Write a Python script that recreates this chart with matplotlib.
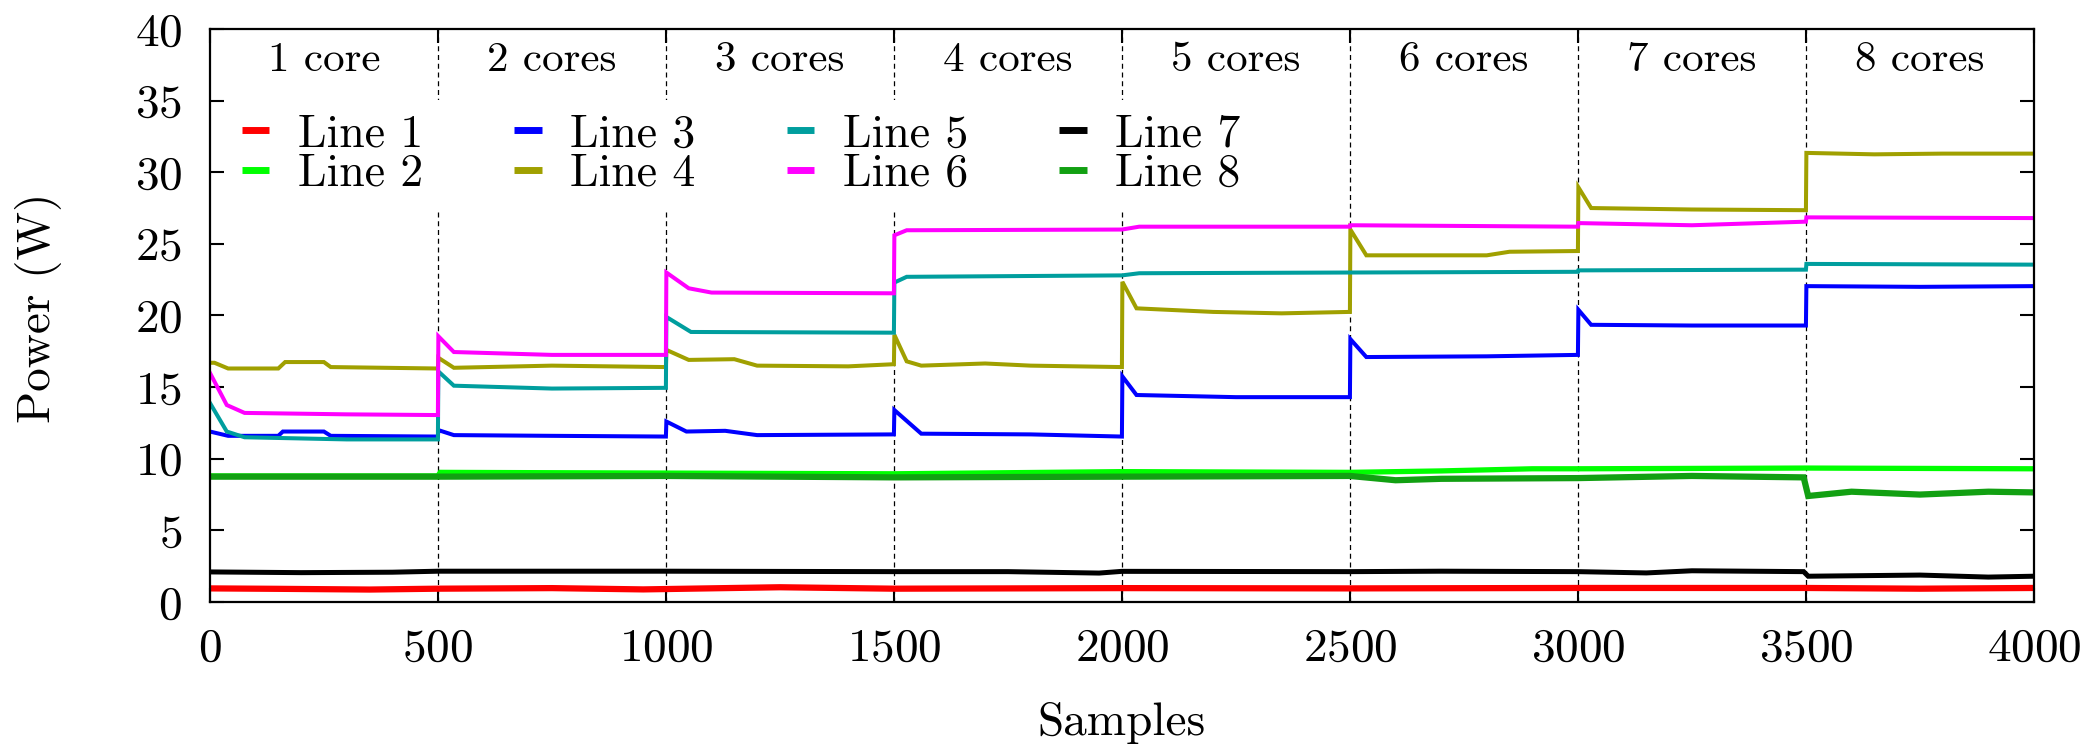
import matplotlib
matplotlib.use("Agg")
import matplotlib.pyplot as plt

plt.rcParams['font.family'] = 'cmr10'
plt.rcParams['mathtext.fontset'] = 'cm'
plt.rcParams['axes.formatter.use_mathtext'] = True

# breakpoints (samples, W)
line1_x = [0, 150, 350, 500, 750, 950, 1250, 1500, 2000, 2500, 3000, 3500, 3750, 4000]
line1_y = [0.95, 0.92, 0.87, 0.93, 0.97, 0.88, 1.03, 0.93, 0.97, 0.95, 0.98, 0.98, 0.93, 0.98]

line2_x = [0, 500, 505, 1000, 1500, 2000, 2500, 2700, 2900, 3000, 3500, 4000]
line2_y = [8.8, 8.8, 9.05, 9.0, 8.95, 9.1, 9.05, 9.15, 9.3, 9.3, 9.35, 9.3]

line3_x = [0, 40, 150, 160, 250, 265, 500,
           501, 535, 750, 1000,
           1001, 1045, 1130, 1200, 1500,
           1501, 1560, 1800, 2000,
           2001, 2032, 2250, 2500,
           2501, 2536, 2800, 3000,
           3001, 3029, 3250, 3500,
           3501, 3750, 4000]
line3_y = [11.9, 11.6, 11.6, 11.9, 11.9, 11.6, 11.55,
           12.0, 11.65, 11.6, 11.55,
           12.6, 11.9, 11.95, 11.65, 11.7,
           13.4, 11.75, 11.7, 11.55,
           15.75, 14.45, 14.3, 14.3,
           18.35, 17.1, 17.15, 17.25,
           20.4, 19.35, 19.3, 19.3,
           22.05, 22.0, 22.05]

line4_x = [0, 10, 40, 150, 165, 250, 265, 500,
           501, 535, 750, 1000,
           1001, 1050, 1150, 1200, 1400, 1500,
           1501, 1528, 1560, 1700, 1800, 2000,
           2001, 2032, 2200, 2350, 2500,
           2501, 2536, 2800, 2850, 3000,
           3001, 3029, 3250, 3500,
           3501, 3650, 3800, 4000]
line4_y = [16.7, 16.7, 16.3, 16.3, 16.75, 16.75, 16.4, 16.3,
           17.05, 16.35, 16.5, 16.4,
           17.6, 16.9, 16.95, 16.5, 16.45, 16.6,
           18.65, 16.8, 16.5, 16.65, 16.5, 16.4,
           22.35, 20.5, 20.25, 20.15, 20.25,
           26.0, 24.2, 24.2, 24.45, 24.5,
           28.95, 27.5, 27.4, 27.35,
           31.35, 31.25, 31.3, 31.3]

line5_x = [0, 37, 76, 300, 500,
           501, 535, 750, 1000,
           1001, 1055, 1500,
           1501, 1528, 2000,
           2038, 2500, 3000,
           3001, 3500,
           3501, 4000]
line5_y = [13.9, 11.9, 11.5, 11.35, 11.35,
           16.1, 15.1, 14.9, 14.95,
           19.9, 18.85, 18.8,
           22.3, 22.7, 22.8,
           22.95, 23.0, 23.05,
           23.15, 23.2,
           23.6, 23.55]

line6_x = [0, 37, 76, 300, 500,
           501, 535, 750, 1000,
           1001, 1050, 1100, 1500,
           1501, 1528, 2000,
           2038, 2500,
           2501, 3000,
           3001, 3250, 3500,
           3501, 4000]
line6_y = [16.0, 13.75, 13.2, 13.1, 13.05,
           18.55, 17.45, 17.25, 17.25,
           23.0, 21.9, 21.6, 21.55,
           25.6, 25.95, 26.0,
           26.2, 26.2,
           26.3, 26.2,
           26.45, 26.3, 26.55,
           26.85, 26.8]

line7_x = [0, 200, 400, 500, 1000, 1500, 1750, 1950, 2000, 2500, 2700, 3000,
           3150, 3250, 3495, 3505, 3750, 3900, 4000]
line7_y = [2.1, 2.05, 2.08, 2.15, 2.15, 2.12, 2.12, 2.02, 2.14, 2.12, 2.15, 2.12,
           2.03, 2.18, 2.12, 1.8, 1.88, 1.74, 1.8]

line8_x = [0, 500, 1000, 1500, 2000, 2500, 2600, 2700, 3000, 3250, 3495, 3505,
           3600, 3750, 3900, 4000]
line8_y = [8.75, 8.75, 8.8, 8.7, 8.75, 8.8, 8.5, 8.6, 8.65, 8.8, 8.7, 7.4,
           7.7, 7.5, 7.7, 7.65]

labels = ['Line 1', 'Line 2', 'Line 3', 'Line 4', 'Line 5', 'Line 6', 'Line 7', 'Line 8']
colors = ['#ff0000', '#00ff00', '#0000ff', '#a0a000', '#009e9e', '#ff00ff', '#000000', '#12a012']
widths = [4.5, 3.8, 2.9, 2.9, 2.9, 2.9, 3.6, 4.5]

core_labels = ['1 core', '2 cores', '3 cores', '4 cores', '5 cores', '6 cores', '7 cores', '8 cores']
core_bounds = [500, 1000, 1500, 2000, 2500, 3000, 3500]

fig = plt.figure(figsize=(20.99, 7.47), dpi=100)
ax = fig.add_axes([0.1000, 0.1941, 0.8690, 0.7671])

xs = [line1_x, line2_x, line3_x, line4_x, line5_x, line6_x, line7_x, line8_x]
ys = [line1_y, line2_y, line3_y, line4_y, line5_y, line6_y, line7_y, line8_y]
for x, y, c, w, lab in zip(xs, ys, colors, widths, labels):
    ax.plot(x, y, color=c, lw=w, label=lab, solid_joinstyle='miter')

for b in core_bounds:
    ax.axvline(b, color='black', lw=0.9, ls=(0, (4, 3)), zorder=1)

for i, t in enumerate(core_labels):
    ax.text(250 + 500 * i, 37.1, t, ha='center', va='baseline', fontsize=31)

ax.set_xlim(0, 4000)
ax.set_ylim(0, 40)
ax.set_xticks(range(0, 4001, 500))
ax.set_yticks(range(0, 41, 5))
ax.tick_params(direction='in', length=10, width=1.5, labelsize=34,
               top=True, right=True)
ax.tick_params(axis='y', pad=20)
ax.tick_params(axis='x', pad=19)
for s in ax.spines.values():
    s.set_linewidth(1.6)

ax.set_xlabel('Samples', fontsize=34)
ax.set_ylabel('Power (W)', fontsize=34)
ax.xaxis.set_label_coords(0.5, -0.1745)
ax.yaxis.set_label_coords(-0.081, 0.513)

leg = ax.legend(ncol=4, loc='upper left', bbox_to_anchor=(0.0099, 0.876),
                fontsize=33, frameon=True, fancybox=False, framealpha=1,
                edgecolor='none', facecolor='white', borderaxespad=0,
                borderpad=0.3, handlelength=0.6, handletextpad=0.63,
                columnspacing=1.98, labelspacing=-0.05)
for h in leg.get_lines():
    h.set_linewidth(5)
    h.set_solid_capstyle('butt')

fig.savefig('out.png', dpi=100)
